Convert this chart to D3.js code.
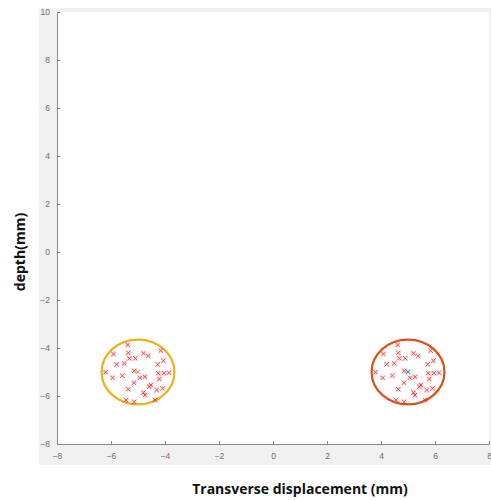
<!DOCTYPE html>
<meta charset="utf-8">
<script src="https://d3js.org/d3.v7.min.js"></script>
<style>
body { margin: 0; background: #fff; }
.axis path, .axis line { stroke: #8a8a8a; }
.axis text { fill: #6e6e6e; font: 8.5px "Liberation Sans", sans-serif; }
.label { font-family: "Open Sans", sans-serif; font-weight: bold; font-size: 14px; fill: #111; }
</style>
<body>
<script>
// data
var xTicks = [-8, -6, -4, -2, 0, 2, 4, 6, 8];
var yTicks = [-8, -6, -4, -2, 0, 2, 4, 6, 8, 10];
var centers = [[-5, -5], [5, -5]];
var ringColors = ["#edb120", "#d95319"];
var radius = 1.35;
// scatter offsets (mm) from each circle's centre, same pattern in both
var offX = [-0.38, -0.91, -0.36, 0.20, 0.38, 0.84, -0.79, -0.51, -0.32, -0.10, 0.73, 0.94,
            -1.20, -0.94, -0.58, -0.14, 0.07, 0.26, 0.75, 0.96, 1.15, 0.79, -0.15, 0.48,
            0.42, -0.36, 0.20, 0.26, 0.69, 0.91, -0.44, -0.14, 0.63];
var offY = [1.13, 0.75, 0.80, 0.78, 0.67, 0.89, 0.32, 0.36, 0.57, 0.57, 0.32, 0.47,
            -0.01, -0.24, -0.15, 0.05, -0.24, -0.20, -0.05, -0.05, -0.03, -0.29, -0.45, -0.54,
            -0.61, -0.72, -0.86, -0.96, -0.75, -0.68, -1.17, -1.24, -1.17];
var centerMarks = ["#e8a070", "#4a90d0"];

var W = 491, H = 500;
var svg = d3.select("body").append("svg").attr("width", W).attr("height", H);

// matlab figure grey
svg.append("rect").attr("x", 39).attr("y", 8).attr("width", W - 39).attr("height", 457)
   .attr("fill", "#f0f0f0");

var x = d3.scaleLinear().domain([-8, 8]).range([57, 489]);
var y = d3.scaleLinear().domain([-8, 10]).range([444, 12]);

svg.append("rect").attr("x", x(-8)).attr("y", y(10))
   .attr("width", x(8) - x(-8)).attr("height", y(-8) - y(10)).attr("fill", "#fff");

svg.append("g").attr("class", "axis")
   .attr("transform", "translate(0," + y(-8) + ")")
   .call(d3.axisBottom(x).tickValues(xTicks).tickSize(-3).tickPadding(9).tickSizeOuter(0));
svg.append("g").attr("class", "axis")
   .attr("transform", "translate(" + x(-8) + ",0)")
   .call(d3.axisLeft(y).tickValues(yTicks).tickSize(-3).tickPadding(7).tickSizeOuter(0));

// circles
svg.selectAll(".ring").data(centers).enter().append("ellipse")
   .attr("class", "ring")
   .attr("cx", function(d) { return x(d[0]); })
   .attr("cy", function(d) { return y(d[1]); })
   .attr("rx", function(d) { return x(d[0] + radius) - x(d[0]); })
   .attr("ry", function(d) { return y(d[1]) - y(d[1] + radius); })
   .attr("fill", "none")
   .attr("stroke", function(d, i) { return ringColors[i]; })
   .attr("stroke-width", 2.2);

var pts = [];
centers.forEach(function(c) {
  offX.forEach(function(dx, i) { pts.push([c[0] + dx, c[1] + offY[i]]); });
});

function cross(sel, s) {
  sel.append("path").attr("d", "M" + (-s) + "," + (-s) + "L" + s + "," + s +
                               "M" + (-s) + "," + s + "L" + s + "," + (-s));
}

var m = svg.selectAll(".pt").data(pts).enter().append("g")
   .attr("class", "pt")
   .attr("transform", function(d) { return "translate(" + x(d[0]) + "," + y(d[1]) + ")"; });
m.append("circle").attr("r", 2.8).attr("fill", "#ff2020").attr("opacity", 0.13);
m.call(cross, 2.2);
m.selectAll("path").attr("stroke", "#f03838").attr("stroke-width", 1).attr("opacity", 0.85);

var cm = svg.selectAll(".cm").data(centers).enter().append("g")
   .attr("transform", function(d) { return "translate(" + x(d[0]) + "," + y(d[1]) + ")"; });
cm.call(cross, 2.2);
cm.selectAll("path").attr("stroke", function() {
  return centerMarks[centers.indexOf(d3.select(this.parentNode).datum())];
}).attr("stroke-width", 1.2);

svg.append("text").attr("class", "label")
   .attr("x", 300).attr("y", 494).attr("text-anchor", "middle")
   .text("Transverse displacement (mm)");
svg.append("text").attr("class", "label")
   .attr("transform", "translate(25," + y(0) + ") rotate(-90)")
   .attr("text-anchor", "middle")
   .text("depth(mm)");
</script>
</body>
</html>
